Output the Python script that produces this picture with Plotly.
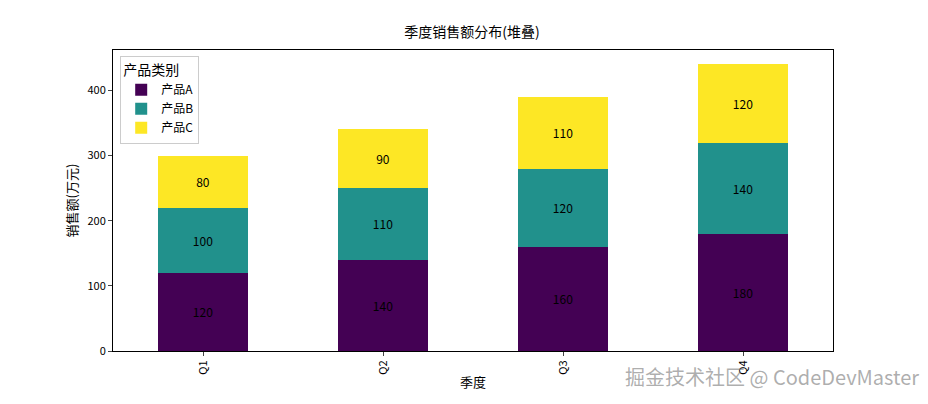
import plotly.graph_objects as go

quarters = ["Q1", "Q2", "Q3", "Q4"]
product_a = [120, 140, 160, 180]
product_b = [100, 110, 120, 140]
product_c = [80, 90, 110, 120]
series_names = ["产品A", "产品B", "产品C"]
colors = ["#440154", "#21918c", "#fde725"]

FONT = "Noto Sans CJK SC"

fig = go.Figure()
for name, vals, color in zip(series_names, [product_a, product_b, product_c], colors):
    fig.add_trace(go.Bar(
        x=quarters, y=vals, name=name,
        marker=dict(color=color, line=dict(width=0)),
        width=0.5,
        text=vals, textposition="inside", insidetextanchor="middle",
        textfont=dict(color="black", size=12, family=FONT),
        cliponaxis=False,
    ))

fig.update_layout(
    barmode="stack",
    width=928, height=404,
    margin=dict(l=105, r=103, t=42, b=61, autoexpand=False),
    paper_bgcolor="white", plot_bgcolor="white",
    font=dict(family=FONT, size=11, color="black"),
    title=dict(text="季度销售额分布(堆叠)", x=0.5, xanchor="center", y=0.94, yanchor="middle",
               font=dict(size=14)),
    legend=dict(title=dict(text="产品类别", side="top"), traceorder="normal",
                x=0.01, y=0.98, xanchor="left", yanchor="top",
                bgcolor="white", bordercolor="#cccccc", borderwidth=1, font=dict(size=12)),
    xaxis=dict(range=[-0.5, 3.5], showline=True, linecolor="black", mirror=True, automargin=False,
               ticks="outside", tickangle=-90, ticklen=4, title=dict(text="季度", standoff=4)),
    yaxis=dict(range=[0, 462], showline=True, linecolor="black", mirror=True, showgrid=False,
               automargin=False, ticks="outside", ticklen=4, dtick=100, zeroline=False,
               title=dict(text="销售额(万元)", standoff=6)),
)
fig.add_annotation(text="掘金技术社区 @ CodeDevMaster", xref="paper", yref="paper",
                   x=1.122, y=-0.085, xanchor="right", yanchor="middle", showarrow=False,
                   font=dict(size=20, color="rgba(120,120,120,0.6)"))

fig.write_html("out.html")
